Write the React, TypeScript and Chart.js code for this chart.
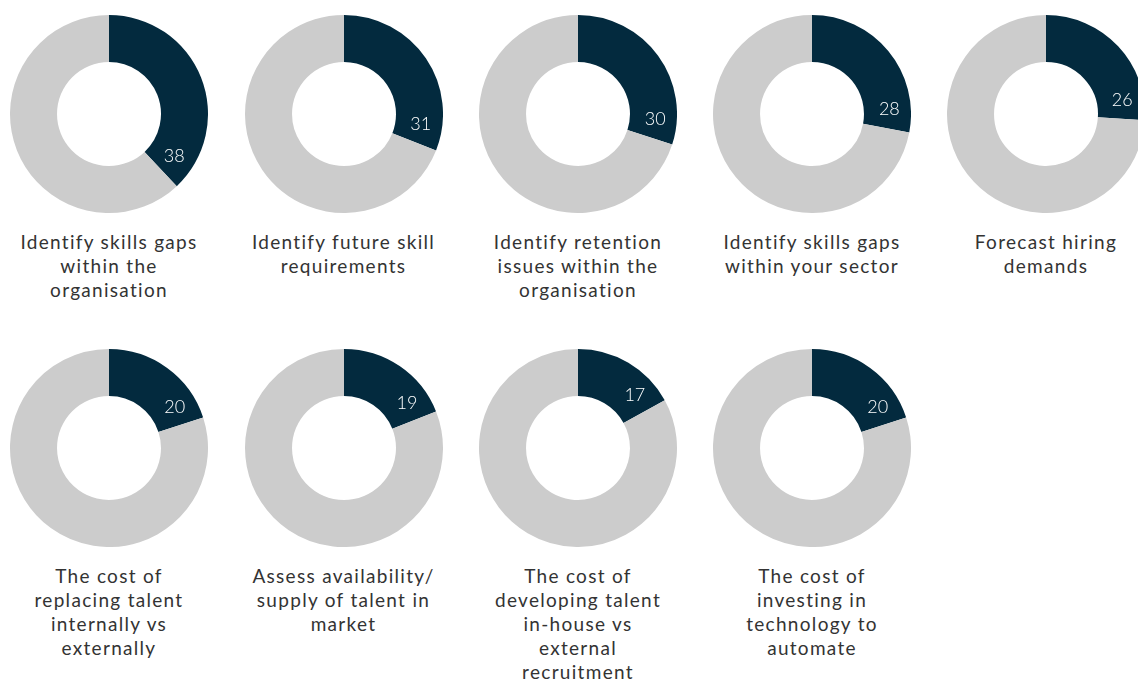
import React, { useEffect, useRef } from "react";
import { Chart, registerables } from "chart.js";

Chart.register(...registerables);

const categories: string[][] = [
  ["Identify skills gaps", "within the", "organisation"],
  ["Identify future skill", "requirements"],
  ["Identify retention", "issues within the", "organisation"],
  ["Identify skills gaps", "within your sector"],
  ["Forecast hiring", "demands"],
  ["The cost of", "replacing talent", "internally vs", "externally"],
  ["Assess availability/", "supply of talent in", "market"],
  ["The cost of", "developing talent", "in-house vs", "external", "recruitment"],
  ["The cost of", "investing in", "technology to", "automate"],
];
const values: number[] = [38, 31, 30, 28, 26, 20, 19, 17, 20];
const total = 100;

const DARK = "#032a3e";
const GREY = "#cccccc";
const FONT = "Lato, 'Open Sans', sans-serif";

const valueLabelPlugin = {
  id: "valueLabel",
  afterDatasetsDraw(chart: any) {
    const meta = chart.getDatasetMeta(0);
    const arc = meta.data[0];
    if (!arc) return;
    const { x, y, endAngle, innerRadius, outerRadius } = arc.getProps(
      ["x", "y", "endAngle", "innerRadius", "outerRadius"],
      true
    );
    const a = endAngle - (14 * Math.PI) / 180;
    const r = (innerRadius + outerRadius) / 2 + 2;
    const ctx = chart.ctx;
    ctx.save();
    ctx.fillStyle = "#ffffff";
    ctx.font = `300 18px ${FONT}`;
    ctx.textAlign = "center";
    ctx.textBaseline = "middle";
    ctx.fillText(String(chart.data.datasets[0].data[0]), x + r * Math.cos(a), y + r * Math.sin(a));
    ctx.restore();
  },
};

function Donut({ value }: { value: number }) {
  const ref = useRef<HTMLCanvasElement>(null);
  useEffect(() => {
    if (!ref.current) return;
    const chart = new Chart(ref.current, {
      type: "doughnut",
      data: {
        labels: ["Yes", "Other"],
        datasets: [
          {
            data: [value, total - value],
            backgroundColor: [DARK, GREY],
            borderWidth: 0,
          },
        ],
      },
      options: {
        responsive: false,
        animation: false,
        cutout: "52.5%",
        layout: { padding: 0 },
        plugins: { legend: { display: false }, tooltip: { enabled: false } },
      },
      plugins: [valueLabelPlugin],
    });
    return () => chart.destroy();
  }, [value]);
  return <canvas ref={ref} width={198} height={198} style={{ width: 198, height: 198, display: "block" }} />;
}

const colX = [109, 343.5, 578, 812, 1046];
const rowY = [114, 448];

export default function App() {
  return (
    <div
      style={{
        position: "absolute",
        left: 0,
        top: 0,
        width: 1138,
        height: 680,
        overflow: "hidden",
        background: "#ffffff",
      }}
    >
      {values.map((v, i) => {
        const cx = colX[i % 5];
        const cy = rowY[Math.floor(i / 5)];
        return (
          <React.Fragment key={i}>
            <div style={{ position: "absolute", left: cx - 99, top: cy - 99 }}>
              <Donut value={v} />
            </div>
            <div
              style={{
                position: "absolute",
                left: cx - 120,
                width: 240,
                top: cy + 116,
                textAlign: "center",
                fontFamily: FONT,
                fontWeight: 400,
                fontSize: 19,
                letterSpacing: "1.3px",
                lineHeight: "24px",
                color: "#333333",
              }}
            >
              {categories[i].map((line, j) => (
                <div key={j}>{line}</div>
              ))}
            </div>
          </React.Fragment>
        );
      })}
    </div>
  );
}
